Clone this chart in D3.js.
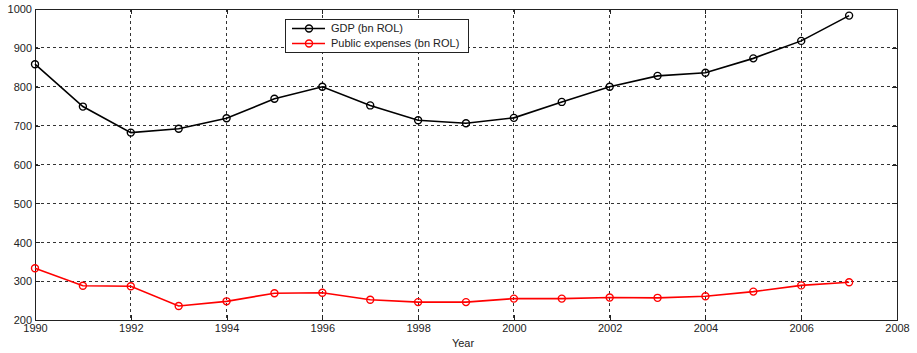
<!DOCTYPE html>
<html><head><meta charset="utf-8">
<script src="https://cdn.jsdelivr.net/npm/d3@7"></script>
<style>body{margin:0;background:#fff}text{font-family:"Liberation Sans",Arial,sans-serif}</style>
</head><body><svg id="c" width="917" height="353"></svg>
<script>
const years = [1990,1991,1992,1993,1994,1995,1996,1997,1998,1999,2000,2001,2002,2003,2004,2005,2006,2007];
const gdp = [858,749,682,692,719,769,800,752,714,706,720,761,800,828,836,873,918,983];
const publicExpenses = [333,288,287,236,248,269,270,252,246,246,255,255,258,257,261,273,289,297];
const xTicks = [1990,1992,1994,1996,1998,2000,2002,2004,2006,2008];
const yTicks = [200,300,400,500,600,700,800,900,1000];
const seriesNames = ["GDP (bn ROL)","Public expenses (bn ROL)"];
const seriesColors = ["#000000","#ff0000"];

const svg = d3.select("#c");
const L=35,R=897,T=9,B=320;
const x = d3.scaleLinear().domain([1990,2008]).range([L,R]);
const y = d3.scaleLinear().domain([200,1000]).range([B,T]);

// grid
const g = svg.append("g");
xTicks.forEach(t=>{ if(t>1990&&t<2008) g.append("line").attr("x1",x(t)).attr("x2",x(t)).attr("y1",T).attr("y2",B).attr("stroke","#333").attr("stroke-width",1).attr("stroke-dasharray","3,3").attr("shape-rendering","crispEdges");});
yTicks.forEach(t=>{ if(t>200&&t<1000) g.append("line").attr("x1",L).attr("x2",R).attr("y1",y(t)).attr("y2",y(t)).attr("stroke","#333").attr("stroke-width",1).attr("stroke-dasharray","3,3").attr("shape-rendering","crispEdges");});

// axes
const xa = svg.append("g").attr("transform",`translate(0,${B})`).call(d3.axisBottom(x).tickValues(xTicks).tickFormat(d3.format("d")).tickSizeInner(-5).tickSizeOuter(0).tickPadding(3));
const xt = svg.append("g").attr("transform",`translate(0,${T})`).call(d3.axisTop(x).tickValues(xTicks).tickFormat("").tickSizeInner(-5).tickSizeOuter(0));
const ya = svg.append("g").attr("transform",`translate(${L},0)`).call(d3.axisLeft(y).tickValues(yTicks).tickFormat(d3.format("d")).tickSizeInner(-5).tickSizeOuter(0).tickPadding(3));
const yr = svg.append("g").attr("transform",`translate(${R},0)`).call(d3.axisRight(y).tickValues(yTicks).tickFormat("").tickSizeInner(-5).tickSizeOuter(0));
[xa,xt,ya,yr].forEach(a=>{a.selectAll("path").attr("stroke","#222").attr("shape-rendering","crispEdges");a.selectAll("line").attr("stroke","#222").attr("shape-rendering","crispEdges");a.selectAll("text").attr("font-size","11px").attr("fill","#222").attr("font-family","Liberation Sans, Arial, sans-serif");});
xa.selectAll("text").attr("dy","0.8em");
ya.selectAll("text").attr("dy","0.35em");
svg.append("text").attr("x",463).attr("y",347).attr("text-anchor","middle").attr("font-size","11px").attr("fill","#222").text("Year");

// series
const series=[gdp,publicExpenses];
series.forEach((vals,i)=>{
  const pts = years.map((yr,j)=>[yr,vals[j]]);
  svg.append("path").datum(pts).attr("fill","none").attr("stroke",seriesColors[i]).attr("stroke-width",1.6)
    .attr("d",d3.line().x(d=>x(d[0])).y(d=>y(d[1])));
  svg.selectAll(null).data(pts).enter().append("circle").attr("cx",d=>x(d[0])).attr("cy",d=>y(d[1])).attr("r",3.5)
    .attr("fill","none").attr("stroke",seriesColors[i]).attr("stroke-width",1.4);
});

// legend
const lg = svg.append("g");
lg.append("rect").attr("x",285.5).attr("y",19.5).attr("width",183).attr("height",33).attr("fill","#fff").attr("stroke","#222").attr("stroke-width",1);
seriesNames.forEach((n,i)=>{
  const yy = 28.5+i*15;
  lg.append("line").attr("x1",292).attr("x2",325).attr("y1",yy).attr("y2",yy).attr("stroke",seriesColors[i]).attr("stroke-width",1.6);
  lg.append("circle").attr("cx",309).attr("cy",yy).attr("r",3.5).attr("fill","none").attr("stroke",seriesColors[i]).attr("stroke-width",1.4);
  lg.append("text").attr("x",331).attr("y",yy).attr("dy","0.35em").attr("font-size","11px").attr("fill","#222").text(n);
});
</script></body></html>
